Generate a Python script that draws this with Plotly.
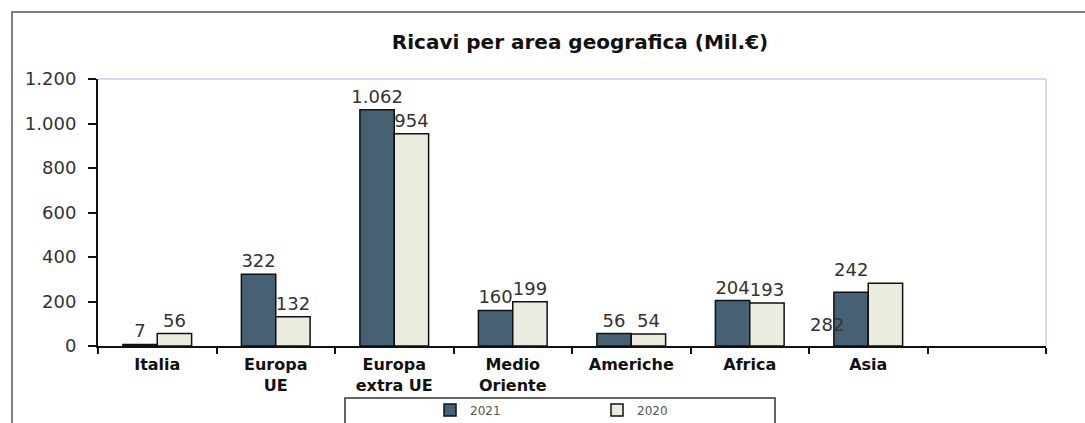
import plotly.graph_objects as go

categories = ["Italia", "Europa<br>UE", "Europa<br>extra UE", "Medio<br>Oriente",
              "Americhe", "Africa", "Asia", " "]
values_2021 = [7, 322, 1062, 160, 56, 204, 242, None]
values_2020 = [56, 132, 954, 199, 54, 193, 282, None]
y_ticks = [0, 200, 400, 600, 800, 1000, 1200]
series_names = ["2021", "2020"]
title_text = "Ricavi per area geografica (Mil.€)"

W, H = 1085, 423
L, R, T, B = 98, 1046, 79, 346  # plot area in px


def px_x(px):
    return (px - L) / (R - L)


def px_y(py):
    return (B - py) / (B - T)


def fmt(v):
    return f"{v:,}".replace(",", ".") if v is not None else ""


# Asia labels are drawn separately (placed oddly in the original)
asia_idx = categories.index("Asia")
text_2021 = [fmt(v) if i != asia_idx else "" for i, v in enumerate(values_2021)]
text_2020 = [fmt(v) if i != asia_idx else "" for i, v in enumerate(values_2020)]

FONT = "DejaVu Sans"
lab_font = dict(family=FONT, size=18, color="#333333")

fig = go.Figure()
fig.add_trace(go.Bar(
    x=categories, y=values_2021, name=series_names[0],
    marker=dict(color="#466074", line=dict(color="#111111", width=1.5)),
    text=text_2021, textposition="outside", textfont=lab_font,
    constraintext="none", cliponaxis=False,
))
fig.add_trace(go.Bar(
    x=categories, y=values_2020, name=series_names[1],
    marker=dict(color="#ecebe0", line=dict(color="#111111", width=1.5)),
    text=text_2020, textposition="outside", textfont=lab_font,
    constraintext="none", cliponaxis=False,
))

annotations = [
    dict(x=categories[asia_idx], y=values_2020[asia_idx], xref="x", yref="y",
         text=fmt(values_2021[asia_idx]), showarrow=False, yanchor="bottom",
         xshift=-17, yshift=1, font=lab_font),
    dict(x=categories[asia_idx], y=0, xref="x", yref="y",
         text=fmt(values_2020[asia_idx]), showarrow=False, yanchor="bottom",
         xshift=-41, yshift=9, font=lab_font),
]

shapes = [
    # outer frame (top and left visible)
    dict(type="rect", xref="paper", yref="paper",
         x0=px_x(12), x1=px_x(1100), y0=px_y(440), y1=px_y(12),
         line=dict(color="#555555", width=1.5), layer="below"),
    # plot area top and right border (light lavender)
    dict(type="line", xref="paper", yref="paper",
         x0=0, x1=1, y0=1, y1=1, line=dict(color="#c8c8ff", width=1.5)),
    dict(type="line", xref="paper", yref="paper",
         x0=1, x1=1, y0=0, y1=1, line=dict(color="#c8c8ff", width=1.5)),
    # legend box
    dict(type="rect", xref="paper", yref="paper",
         x0=px_x(345), x1=px_x(775), y0=px_y(440), y1=px_y(398),
         line=dict(color="#333333", width=1.5)),
]

fig.update_layout(
    width=W, height=H,
    margin=dict(l=L, r=W - R, t=T, b=H - B, pad=0, autoexpand=False),
    paper_bgcolor="white", plot_bgcolor="white",
    separators=",.",
    barmode="group", bargap=0.42, bargroupgap=0,
    title=dict(text="<b>" + title_text + "</b>", x=px_x(580), xanchor="center",
               xref="paper", y=1 - 42 / H, yanchor="middle", yref="container",
               font=dict(family=FONT, size=20, color="#111111")),
    showlegend=True,
    legend=dict(orientation="h", xref="container", x=430 / W, xanchor="left",
                yref="container", y=1 - 410 / H, yanchor="middle",
                font=dict(family=FONT, size=12, color="#555555"),
                entrywidth=122, entrywidthmode="pixels",
                bgcolor="rgba(0,0,0,0)", borderwidth=0),
    annotations=annotations,
    shapes=shapes,
)

fig.update_xaxes(
    type="category", categoryorder="array", categoryarray=categories,
    automargin=False,
    showline=True, linecolor="#111111", linewidth=1.5,
    ticks="outside", tickson="boundaries", ticklen=6, tickcolor="#111111",
    tickwidth=1.5, showgrid=False, zeroline=False, ticklabelstandoff=3,
    tickfont=dict(family=FONT, size=16, color="#111111", weight="bold"),
)
fig.update_yaxes(
    range=[0, 1200], tickvals=y_ticks, tickformat=",d", automargin=False,
    showline=True, linecolor="#111111", linewidth=2,
    ticks="outside", ticklen=8, tickcolor="#111111", tickwidth=1.5,
    ticklabelstandoff=8,
    showgrid=False, zeroline=False,
    tickfont=dict(family=FONT, size=18, color="#333333"),
)

fig.write_html("out.html", config={"displayModeBar": False},
               post_script="document.body.style.margin='0';")
